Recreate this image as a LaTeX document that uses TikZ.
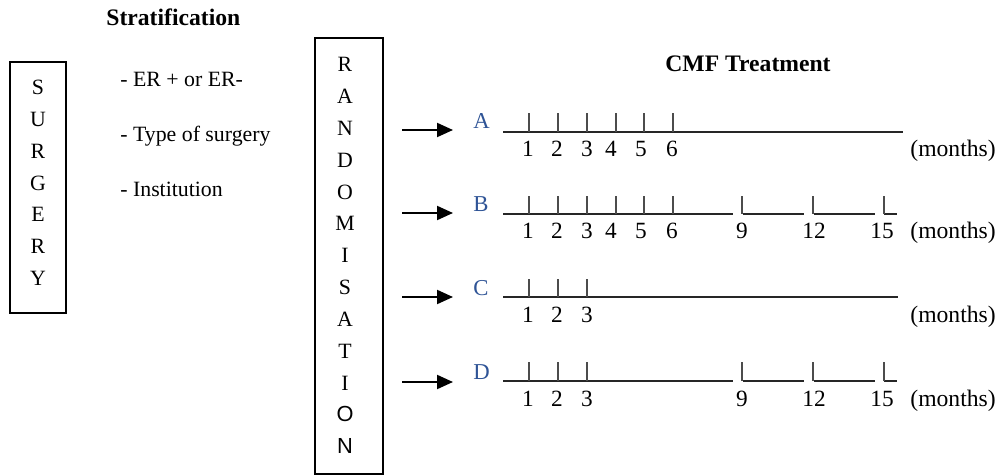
\documentclass[tikz,border=0pt]{standalone}
\usepackage{fontspec}
\setmainfont{Liberation Serif}
\newfontfamily\sansletter{Liberation Sans}
\usetikzlibrary{arrows.meta}
\definecolor{armblue}{RGB}{47,84,150}
\begin{document}
\begin{tikzpicture}[x=0.55pt,y=-0.55pt,
  font=\fontsize{12}{14}\selectfont,
  frame/.style={draw, line width=0.8pt, rectangle, inner sep=0pt},
  txt/.style={inner sep=0pt, anchor=base west},
  heading/.style={inner sep=0pt, anchor=base west, font=\fontsize{13}{15}\selectfont\bfseries},
  vletter/.style={inner sep=0pt, anchor=base},
  armlabel/.style={inner sep=0pt, anchor=base west, text=armblue, font=\fontsize{12.5}{15}\selectfont},
  month/.style={inner sep=0pt, anchor=base, font=\fontsize{12.8}{15}\selectfont},
  unit/.style={inner sep=0pt, anchor=base west, font=\fontsize{13}{15}\selectfont},
  arm/.style={line width=1.1pt, -{Triangle[length=8.8pt,width=7.7pt]}},
  tl/.style={line width=0.6pt, draw=black!85},
  tick/.style={line width=0.65pt, draw=black!70}]
\useasboundingbox (0,0) rectangle (1002,476);

% ---- surgery column ----
\node[frame, minimum width=30.8pt, minimum height=138pt] (surgery) at (38,187.5) {};
\foreach \ch [count=\i from 0] in {S,U,R,G,E,R,Y}
  \node[vletter] (sg\i) at (38,95+31.7*\i) {\ch};

% ---- stratification factors ----
\node[heading] (strat) at (106,26) {Stratification};
\node[txt] (s1) at (120,87) {- ER + or ER-};
\node[txt] (s2) at (120,142) {- Type of surgery};
\node[txt] (s3) at (120,197) {- Institution};

% ---- randomisation column ----
\node[frame, minimum width=37.4pt, minimum height=239.8pt] (rand) at (349,256) {};
\foreach \ch [count=\i from 0] in {R,A,N,D,O,M,I,S,A,T,I}
  \node[vletter] (rd\i) at (345,72+31.8*\i) {\ch};
\node[vletter, font=\fontsize{12}{14}\sansletter] (rd11) at (345,72+31.8*11) {O};
\node[vletter, font=\fontsize{12}{14}\sansletter] (rd12) at (345,72+31.8*12) {N};

% ---- treatment arms ----
\node[heading] (cmf) at (665,72) {CMF Treatment};

\node[armlabel] (armA) at (473,129) {A};
\node[armlabel] (armB) at (473,212) {B};
\node[armlabel] (armC) at (473,295) {C};
\node[armlabel] (armD) at (473,379) {D};

\foreach \r/\y in {A/130,B/213,C/297,D/382}{
  \coordinate (p\r) at (402,\y);
  \coordinate (q\r) at (453,\y);
  \draw[arm] (p\r) -- (q\r);
}

% arm A: six monthly cycles
\coordinate (tA) at (503,132);
\draw[tl] (tA) -- ++(400,0);
\foreach \x in {529,558,587,616,644,673} \draw[tick] (\x,132) -- (\x,113);
\foreach \n/\x in {1/528,2/557,3/587,4/611,5/641,6/672}
  \node[month] (mA\n) at (\x,157) {\n};
\node[unit] (uA) at (910,157) {(months)};

% arm B: six monthly cycles, then every three months
\coordinate (tB) at (503,214);
\draw[tl] (tB) -- (733,214) (743,214) -- (804,214) (814,214) -- (875,214) (884,214) -- (897,214);
\foreach \x in {529,558,587,616,644,673,742,813,884} \draw[tick] (\x,214) -- (\x,196);
\foreach \n/\x in {1/528,2/557,3/587,4/611,5/641,6/672,9/742,12/814,15/882}
  \node[month] (mB\n) at (\x,239) {\n};
\node[unit] (uB) at (910,239) {(months)};

% arm C: three monthly cycles
\coordinate (tC) at (503,297);
\draw[tl] (tC) -- ++(395,0);
\foreach \x in {529,558,587} \draw[tick] (\x,297) -- (\x,279);
\foreach \n/\x in {1/528,2/557,3/587}
  \node[month] (mC\n) at (\x,322) {\n};
\node[unit] (uC) at (910,322) {(months)};

% arm D: three monthly cycles, then every three months
\coordinate (tD) at (503,381);
\draw[tl] (tD) -- (733,381) (743,381) -- (804,381) (814,381) -- (875,381) (884,381) -- (897,381);
\foreach \x in {529,558,587,742,813,884} \draw[tick] (\x,381) -- (\x,362);
\foreach \n/\x in {1/528,2/557,3/587,9/742,12/814,15/882}
  \node[month] (mD\n) at (\x,406) {\n};
\node[unit] (uD) at (910,406) {(months)};
\end{tikzpicture}
\end{document}
